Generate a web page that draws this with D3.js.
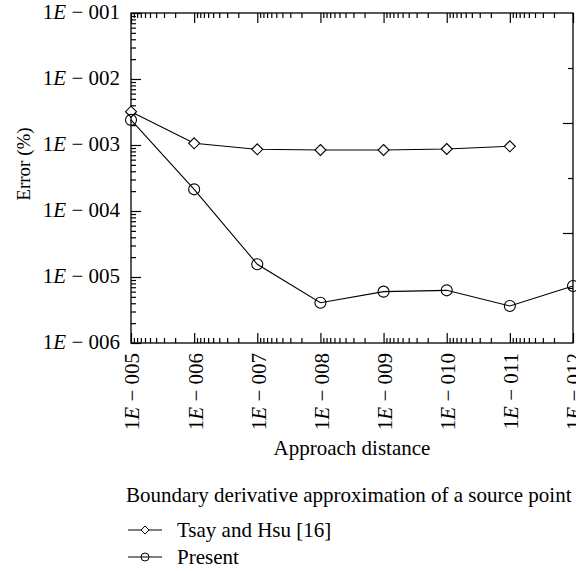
<!DOCTYPE html>
<html>
<head>
<meta charset="utf-8">
<script src="https://cdn.jsdelivr.net/npm/d3@7"></script>
<style>
  html, body { margin: 0; padding: 0; background: #fff; }
  svg { display: block; font-family: "Liberation Serif", "DejaVu Serif", serif; }
</style>
</head>
<body>
<svg id="chart" width="576" height="571"></svg>
<script>
// Approach distances (x) and error percentages for both methods
const distances = [1e-5, 1e-6, 1e-7, 1e-8, 1e-9, 1e-10, 1e-11, 1e-12];
const tsayHsu  = [3.2e-3, 1.06e-3, 8.6e-4, 8.4e-4, 8.4e-4, 8.7e-4, 9.55e-4];
const present  = [2.4e-3, 2.13e-4, 1.56e-5, 4.08e-6, 6.0e-6, 6.28e-6, 3.64e-6, 7.3e-6];
const yTicks   = [1e-1, 1e-2, 1e-3, 1e-4, 1e-5, 1e-6];
const xTicks   = distances;
const seriesNames = ["Tsay and Hsu [16]", "Present"];
const legendTitle = "Boundary derivative approximation of a source point";

const FS = 21;
const svg = d3.select("#chart");
const plotL = 131, plotR = 573, plotT = 13, plotB = 343;

const x = d3.scaleLog().domain([1e-5, 1e-12]).range([plotL, plotR]);
const y = d3.scaleLog().domain([1e-6, 1e-1]).range([plotB, plotT]);
// secondary (unlabelled) linear scale on the right frame
const yRight = d3.scaleLinear().domain([0, 6]).range([plotT, plotB]);

// minor ticks at 2..9 within each decade
function minorTicks(lo, hi) {
  const out = [];
  for (let e = lo; e < hi; e++) for (let m = 2; m <= 9; m++) out.push(m * Math.pow(10, e));
  return out;
}
const xMinor = minorTicks(-12, -5);
const yMinor = minorTicks(-6, -1);

function expLabel(sel, v) {
  const k = -Math.round(Math.log10(v));
  sel.text(null);
  sel.append("tspan").text("1");
  sel.append("tspan").attr("font-style", "italic").text("E");
  sel.append("tspan").text(" \u2212 " + String(k).padStart(3, "0"));
}

function styleAxis(g) {
  g.select(".domain").remove();
  g.selectAll("line").attr("stroke", "#000").attr("stroke-width", 1.2);
}

// bottom axis (ticks point inward)
svg.append("g").attr("transform", `translate(0,${plotB})`)
  .call(d3.axisBottom(x).tickValues(xTicks).tickSize(-10).tickFormat(""))
  .call(styleAxis);
svg.append("g").attr("transform", `translate(0,${plotB})`)
  .call(d3.axisBottom(x).tickValues(xMinor).tickSize(-5).tickFormat(""))
  .call(styleAxis);
// top axis
svg.append("g").attr("transform", `translate(0,${plotT})`)
  .call(d3.axisTop(x).tickValues(xTicks).tickSize(-10).tickFormat(""))
  .call(styleAxis);
svg.append("g").attr("transform", `translate(0,${plotT})`)
  .call(d3.axisTop(x).tickValues(xMinor).tickSize(-5).tickFormat(""))
  .call(styleAxis);
// left axis
svg.append("g").attr("transform", `translate(${plotL},0)`)
  .call(d3.axisLeft(y).tickValues(yTicks).tickSize(-10).tickFormat(""))
  .call(styleAxis);
svg.append("g").attr("transform", `translate(${plotL},0)`)
  .call(d3.axisLeft(y).tickValues(yMinor).tickSize(-5).tickFormat(""))
  .call(styleAxis);
// right axis
svg.append("g").attr("transform", `translate(${plotR},0)`)
  .call(d3.axisRight(yRight).tickValues([2, 4]).tickSize(-10).tickFormat(""))
  .call(styleAxis);
svg.append("g").attr("transform", `translate(${plotR},0)`)
  .call(d3.axisRight(yRight).tickValues([1, 3, 5]).tickSize(-5).tickFormat(""))
  .call(styleAxis);

// frame
svg.append("rect")
  .attr("x", plotL).attr("y", plotT)
  .attr("width", plotR - plotL).attr("height", plotB - plotT)
  .attr("fill", "none").attr("stroke", "#000").attr("stroke-width", 1.3);

// y tick labels
svg.append("g").selectAll("text").data(yTicks).join("text")
  .attr("x", plotL - 11).attr("y", d => y(d)).attr("dy", "0.3em")
  .attr("text-anchor", "end").attr("font-size", FS)
  .each(function (d) { expLabel(d3.select(this), d); });

// x tick labels (rotated)
svg.append("g").selectAll("text").data(xTicks).join("text")
  .attr("transform", d => `translate(${x(d) + 1},${plotB + 10}) rotate(-90)`)
  .attr("dy", "0.35em")
  .attr("text-anchor", "end").attr("font-size", FS)
  .each(function (d) { expLabel(d3.select(this), d); });

// axis titles
svg.append("text")
  .attr("x", (plotL + plotR) / 2).attr("y", 455)
  .attr("text-anchor", "middle").attr("font-size", FS)
  .text("Approach distance");
svg.append("text")
  .attr("transform", `translate(30,164) rotate(-90)`)
  .attr("text-anchor", "middle").attr("font-size", 19)
  .text("Error (%)");

// series
const line = d3.line().x(d => x(d[0])).y(d => y(d[1]));
const tsayPts = tsayHsu.map((v, i) => [distances[i], v]);
const presPts = present.map((v, i) => [distances[i], v]);

const diamond = r => `M0,${-r}L${r},0L0,${r}L${-r},0Z`;

svg.append("path").datum(tsayPts).attr("d", line)
  .attr("fill", "none").attr("stroke", "#000").attr("stroke-width", 1.1);
svg.append("path").datum(presPts).attr("d", line)
  .attr("fill", "none").attr("stroke", "#000").attr("stroke-width", 1.1);

svg.append("g").selectAll("path").data(tsayPts).join("path")
  .attr("transform", d => `translate(${x(d[0])},${y(d[1])})`)
  .attr("d", diamond(5.5))
  .attr("fill", "#fff").attr("stroke", "#000").attr("stroke-width", 1.1);
svg.append("g").selectAll("circle").data(presPts).join("circle")
  .attr("cx", d => x(d[0])).attr("cy", d => y(d[1])).attr("r", 5.5)
  .attr("fill", "none").attr("stroke", "#000").attr("stroke-width", 1.1);

// legend
svg.append("text")
  .attr("x", 126).attr("y", 502).attr("font-size", FS)
  .text(legendTitle);

const legendRows = [
  { name: seriesNames[0], y: 530, shape: "diamond" },
  { name: seriesNames[1], y: 557, shape: "circle" }
];
legendRows.forEach(row => {
  const g = svg.append("g");
  g.append("line").attr("x1", 128).attr("x2", 162)
    .attr("y1", row.y).attr("y2", row.y)
    .attr("stroke", "#000").attr("stroke-width", 1.1);
  if (row.shape === "diamond") {
    g.append("path").attr("transform", `translate(145,${row.y})`)
      .attr("d", diamond(4)).attr("fill", "#fff").attr("stroke", "#000").attr("stroke-width", 1);
  } else {
    g.append("circle").attr("cx", 145).attr("cy", row.y).attr("r", 4)
      .attr("fill", "none").attr("stroke", "#000").attr("stroke-width", 1);
  }
  g.append("text").attr("x", 177).attr("y", row.y + 6.5).attr("font-size", FS)
    .text(row.name);
});
</script>
</body>
</html>
